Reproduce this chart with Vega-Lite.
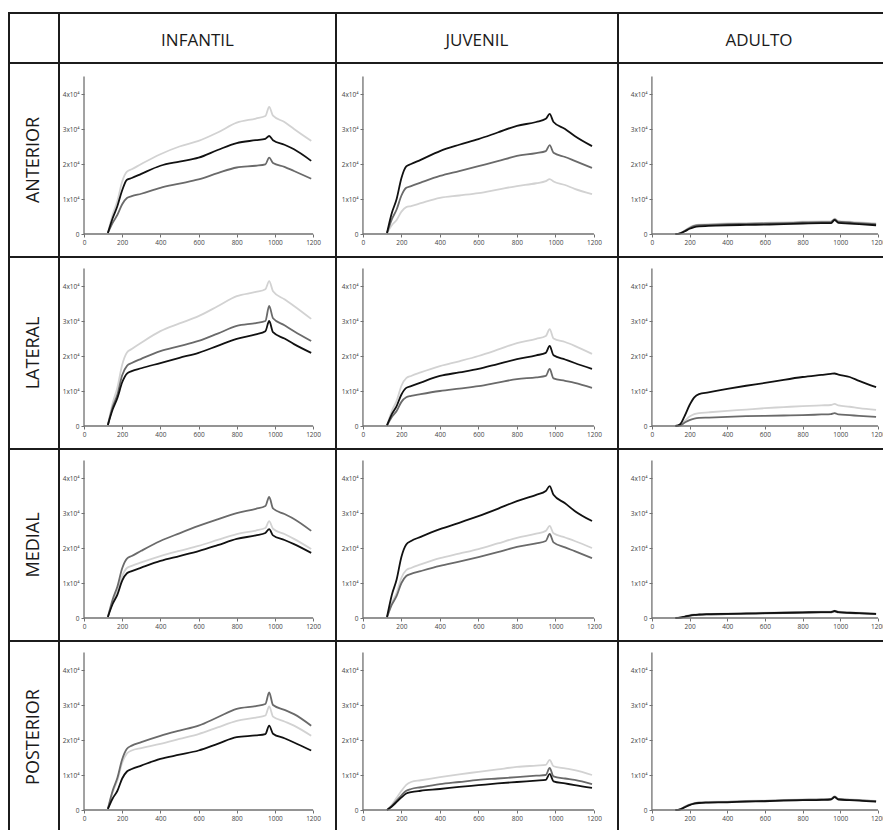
{
"$schema":"https://vega.github.io/schema/vega-lite/v6.json",
"padding":{"left":8,"top":12,"right":0,"bottom":0},
"columns":4,
"spacing":0,
"bounds":"flush",
"datasets":{
"AI":[{"x":125,"a":0.03,"b":0.03,"c":0.03},{"x":150,"a":0.55,"b":0.32,"c":0.45},{"x":175,"a":0.95,"b":0.55,"c":0.8},{"x":200,"a":1.5,"b":0.85,"c":1.25},{"x":225,"a":1.78,"b":1.03,"c":1.55},{"x":250,"a":1.85,"b":1.08,"c":1.6},{"x":300,"a":2.0,"b":1.15,"c":1.72},{"x":400,"a":2.28,"b":1.32,"c":1.95},{"x":500,"a":2.5,"b":1.44,"c":2.07},{"x":600,"a":2.66,"b":1.56,"c":2.18},{"x":700,"a":2.9,"b":1.74,"c":2.4},{"x":800,"a":3.18,"b":1.9,"c":2.6},{"x":900,"a":3.3,"b":1.95,"c":2.68},{"x":950,"a":3.37,"b":1.99,"c":2.72},{"x":970,"a":3.63,"b":2.18,"c":2.8},{"x":990,"a":3.38,"b":2.03,"c":2.68},{"x":1050,"a":3.2,"b":1.92,"c":2.55},{"x":1100,"a":3.0,"b":1.8,"c":2.42},{"x":1190,"a":2.66,"b":1.58,"c":2.09}],
"AJ":[{"x":125,"a":0.02,"b":0.03,"c":0.03},{"x":150,"a":0.25,"b":0.42,"c":0.6},{"x":175,"a":0.4,"b":0.7,"c":1.0},{"x":200,"a":0.64,"b":1.1,"c":1.6},{"x":225,"a":0.77,"b":1.32,"c":1.93},{"x":250,"a":0.8,"b":1.37,"c":2.0},{"x":300,"a":0.88,"b":1.47,"c":2.12},{"x":400,"a":1.03,"b":1.66,"c":2.37},{"x":500,"a":1.1,"b":1.8,"c":2.55},{"x":600,"a":1.17,"b":1.94,"c":2.71},{"x":700,"a":1.27,"b":2.08,"c":2.9},{"x":800,"a":1.37,"b":2.23,"c":3.09},{"x":900,"a":1.45,"b":2.31,"c":3.2},{"x":950,"a":1.51,"b":2.37,"c":3.29},{"x":970,"a":1.57,"b":2.54,"c":3.43},{"x":990,"a":1.5,"b":2.32,"c":3.2},{"x":1050,"a":1.4,"b":2.2,"c":3.0},{"x":1100,"a":1.29,"b":2.09,"c":2.8},{"x":1190,"a":1.14,"b":1.89,"c":2.51}],
"AA":[{"x":125,"a":0,"b":0,"c":0},{"x":150,"a":0.02,"b":0.02,"c":0.02},{"x":175,"a":0.1,"b":0.09,"c":0.08},{"x":200,"a":0.19,"b":0.17,"c":0.15},{"x":225,"a":0.25,"b":0.23,"c":0.2},{"x":250,"a":0.27,"b":0.25,"c":0.22},{"x":300,"a":0.28,"b":0.26,"c":0.23},{"x":400,"a":0.3,"b":0.28,"c":0.25},{"x":500,"a":0.31,"b":0.29,"c":0.26},{"x":600,"a":0.32,"b":0.3,"c":0.27},{"x":700,"a":0.33,"b":0.31,"c":0.28},{"x":800,"a":0.35,"b":0.33,"c":0.3},{"x":900,"a":0.36,"b":0.34,"c":0.31},{"x":950,"a":0.36,"b":0.34,"c":0.31},{"x":970,"a":0.44,"b":0.42,"c":0.4},{"x":990,"a":0.37,"b":0.35,"c":0.32},{"x":1050,"a":0.35,"b":0.33,"c":0.3},{"x":1100,"a":0.33,"b":0.31,"c":0.28},{"x":1190,"a":0.3,"b":0.28,"c":0.25}],
"LI":[{"x":125,"a":0.03,"b":0.03,"c":0.03},{"x":150,"a":0.65,"b":0.54,"c":0.47},{"x":175,"a":1.1,"b":0.9,"c":0.8},{"x":200,"a":1.75,"b":1.45,"c":1.25},{"x":225,"a":2.1,"b":1.72,"c":1.5},{"x":250,"a":2.2,"b":1.8,"c":1.57},{"x":300,"a":2.38,"b":1.92,"c":1.65},{"x":400,"a":2.71,"b":2.14,"c":1.8},{"x":500,"a":2.93,"b":2.28,"c":1.95},{"x":600,"a":3.14,"b":2.43,"c":2.09},{"x":700,"a":3.42,"b":2.64,"c":2.29},{"x":800,"a":3.71,"b":2.86,"c":2.49},{"x":900,"a":3.83,"b":2.94,"c":2.62},{"x":950,"a":3.91,"b":3.0,"c":2.71},{"x":970,"a":4.14,"b":3.43,"c":3.0},{"x":990,"a":3.85,"b":3.08,"c":2.68},{"x":1050,"a":3.62,"b":2.88,"c":2.5},{"x":1100,"a":3.43,"b":2.71,"c":2.34},{"x":1190,"a":3.06,"b":2.43,"c":2.09}],
"LJ":[{"x":125,"a":0.02,"b":0.02,"c":0.02},{"x":150,"a":0.43,"b":0.26,"c":0.34},{"x":175,"a":0.72,"b":0.43,"c":0.57},{"x":200,"a":1.15,"b":0.69,"c":0.9},{"x":225,"a":1.37,"b":0.82,"c":1.09},{"x":250,"a":1.43,"b":0.86,"c":1.14},{"x":300,"a":1.53,"b":0.91,"c":1.24},{"x":400,"a":1.71,"b":1.0,"c":1.43},{"x":500,"a":1.85,"b":1.07,"c":1.53},{"x":600,"a":2.0,"b":1.14,"c":1.63},{"x":700,"a":2.18,"b":1.24,"c":1.77},{"x":800,"a":2.37,"b":1.34,"c":1.91},{"x":900,"a":2.49,"b":1.39,"c":2.02},{"x":950,"a":2.57,"b":1.43,"c":2.09},{"x":970,"a":2.77,"b":1.63,"c":2.29},{"x":990,"a":2.5,"b":1.36,"c":2.02},{"x":1050,"a":2.4,"b":1.29,"c":1.9},{"x":1100,"a":2.29,"b":1.23,"c":1.8},{"x":1190,"a":2.06,"b":1.09,"c":1.63}],
"LA":[{"x":125,"a":0,"b":0,"c":0},{"x":150,"a":0.03,"b":0.02,"c":0.05},{"x":175,"a":0.15,"b":0.1,"c":0.3},{"x":200,"a":0.27,"b":0.17,"c":0.6},{"x":225,"a":0.34,"b":0.21,"c":0.82},{"x":250,"a":0.37,"b":0.23,"c":0.91},{"x":300,"a":0.39,"b":0.24,"c":0.96},{"x":400,"a":0.43,"b":0.26,"c":1.06},{"x":500,"a":0.47,"b":0.28,"c":1.15},{"x":600,"a":0.51,"b":0.29,"c":1.23},{"x":700,"a":0.54,"b":0.3,"c":1.32},{"x":800,"a":0.57,"b":0.31,"c":1.4},{"x":900,"a":0.59,"b":0.33,"c":1.46},{"x":950,"a":0.6,"b":0.34,"c":1.49},{"x":970,"a":0.63,"b":0.37,"c":1.5},{"x":990,"a":0.59,"b":0.33,"c":1.47},{"x":1050,"a":0.55,"b":0.31,"c":1.4},{"x":1100,"a":0.51,"b":0.29,"c":1.29},{"x":1190,"a":0.46,"b":0.26,"c":1.11}],
"MI":[{"x":125,"a":0.03,"b":0.03,"c":0.03},{"x":150,"a":0.45,"b":0.53,"c":0.4},{"x":175,"a":0.75,"b":0.9,"c":0.67},{"x":200,"a":1.2,"b":1.42,"c":1.07},{"x":225,"a":1.43,"b":1.7,"c":1.28},{"x":250,"a":1.49,"b":1.77,"c":1.34},{"x":300,"a":1.59,"b":1.92,"c":1.44},{"x":400,"a":1.77,"b":2.2,"c":1.63},{"x":500,"a":1.92,"b":2.42,"c":1.77},{"x":600,"a":2.06,"b":2.63,"c":1.91},{"x":700,"a":2.23,"b":2.82,"c":2.08},{"x":800,"a":2.4,"b":3.0,"c":2.26},{"x":900,"a":2.5,"b":3.12,"c":2.36},{"x":950,"a":2.57,"b":3.2,"c":2.43},{"x":970,"a":2.77,"b":3.46,"c":2.54},{"x":990,"a":2.55,"b":3.13,"c":2.36},{"x":1050,"a":2.4,"b":2.97,"c":2.23},{"x":1100,"a":2.26,"b":2.83,"c":2.11},{"x":1190,"a":1.97,"b":2.49,"c":1.86}],
"MJ":[{"x":125,"a":0.02,"b":0.02,"c":0.03},{"x":150,"a":0.43,"b":0.38,"c":0.66},{"x":175,"a":0.72,"b":0.63,"c":1.1},{"x":200,"a":1.15,"b":1.0,"c":1.75},{"x":225,"a":1.37,"b":1.2,"c":2.1},{"x":250,"a":1.43,"b":1.26,"c":2.2},{"x":300,"a":1.53,"b":1.34,"c":2.32},{"x":400,"a":1.71,"b":1.49,"c":2.54},{"x":500,"a":1.84,"b":1.61,"c":2.72},{"x":600,"a":1.97,"b":1.74,"c":2.91},{"x":700,"a":2.13,"b":1.88,"c":3.12},{"x":800,"a":2.29,"b":2.03,"c":3.34},{"x":900,"a":2.41,"b":2.13,"c":3.52},{"x":950,"a":2.49,"b":2.2,"c":3.63},{"x":970,"a":2.63,"b":2.4,"c":3.77},{"x":990,"a":2.42,"b":2.16,"c":3.52},{"x":1050,"a":2.3,"b":2.02,"c":3.28},{"x":1100,"a":2.2,"b":1.91,"c":3.06},{"x":1190,"a":2.0,"b":1.71,"c":2.77}],
"MA":[{"x":125,"a":0,"b":0,"c":0},{"x":150,"a":0.02,"b":0.01,"c":0.01},{"x":175,"a":0.05,"b":0.03,"c":0.04},{"x":200,"a":0.08,"b":0.06,"c":0.07},{"x":225,"a":0.1,"b":0.08,"c":0.09},{"x":250,"a":0.11,"b":0.09,"c":0.1},{"x":300,"a":0.12,"b":0.1,"c":0.11},{"x":400,"a":0.13,"b":0.11,"c":0.12},{"x":500,"a":0.14,"b":0.12,"c":0.13},{"x":600,"a":0.15,"b":0.13,"c":0.14},{"x":700,"a":0.16,"b":0.14,"c":0.15},{"x":800,"a":0.17,"b":0.15,"c":0.16},{"x":900,"a":0.18,"b":0.16,"c":0.17},{"x":950,"a":0.18,"b":0.16,"c":0.17},{"x":970,"a":0.21,"b":0.19,"c":0.2},{"x":990,"a":0.18,"b":0.16,"c":0.17},{"x":1050,"a":0.16,"b":0.14,"c":0.15},{"x":1100,"a":0.15,"b":0.13,"c":0.14},{"x":1190,"a":0.13,"b":0.11,"c":0.12}],
"PI":[{"x":125,"a":0.03,"b":0.03,"c":0.03},{"x":150,"a":0.5,"b":0.55,"c":0.33},{"x":175,"a":0.85,"b":0.92,"c":0.55},{"x":200,"a":1.35,"b":1.45,"c":0.9},{"x":225,"a":1.62,"b":1.75,"c":1.1},{"x":250,"a":1.7,"b":1.84,"c":1.17},{"x":300,"a":1.77,"b":1.94,"c":1.27},{"x":400,"a":1.89,"b":2.12,"c":1.46},{"x":500,"a":2.03,"b":2.27,"c":1.58},{"x":600,"a":2.17,"b":2.41,"c":1.7},{"x":700,"a":2.36,"b":2.65,"c":1.89},{"x":800,"a":2.55,"b":2.89,"c":2.08},{"x":900,"a":2.64,"b":2.97,"c":2.13},{"x":950,"a":2.7,"b":3.03,"c":2.17},{"x":970,"a":2.96,"b":3.36,"c":2.41},{"x":990,"a":2.67,"b":3.0,"c":2.18},{"x":1050,"a":2.53,"b":2.86,"c":2.05},{"x":1100,"a":2.41,"b":2.74,"c":1.93},{"x":1190,"a":2.12,"b":2.41,"c":1.7}],
"PJ":[{"x":125,"a":0,"b":0,"c":0},{"x":150,"a":0.15,"b":0.12,"c":0.1},{"x":175,"a":0.35,"b":0.27,"c":0.23},{"x":200,"a":0.55,"b":0.42,"c":0.36},{"x":225,"a":0.72,"b":0.55,"c":0.47},{"x":250,"a":0.8,"b":0.6,"c":0.51},{"x":300,"a":0.85,"b":0.65,"c":0.55},{"x":400,"a":0.94,"b":0.74,"c":0.6},{"x":500,"a":1.02,"b":0.8,"c":0.66},{"x":600,"a":1.09,"b":0.86,"c":0.71},{"x":700,"a":1.16,"b":0.9,"c":0.76},{"x":800,"a":1.23,"b":0.94,"c":0.8},{"x":900,"a":1.27,"b":0.98,"c":0.84},{"x":950,"a":1.29,"b":1.0,"c":0.86},{"x":970,"a":1.43,"b":1.2,"c":1.03},{"x":990,"a":1.25,"b":0.96,"c":0.82},{"x":1050,"a":1.19,"b":0.9,"c":0.76},{"x":1100,"a":1.14,"b":0.86,"c":0.71},{"x":1190,"a":1.0,"b":0.74,"c":0.63}],
"PA":[{"x":125,"a":0,"b":0,"c":0},{"x":150,"a":0.02,"b":0.02,"c":0.02},{"x":175,"a":0.1,"b":0.09,"c":0.08},{"x":200,"a":0.16,"b":0.15,"c":0.14},{"x":225,"a":0.2,"b":0.19,"c":0.18},{"x":250,"a":0.22,"b":0.21,"c":0.2},{"x":300,"a":0.23,"b":0.22,"c":0.21},{"x":400,"a":0.24,"b":0.23,"c":0.22},{"x":500,"a":0.26,"b":0.25,"c":0.24},{"x":600,"a":0.27,"b":0.26,"c":0.25},{"x":700,"a":0.29,"b":0.28,"c":0.27},{"x":800,"a":0.3,"b":0.29,"c":0.28},{"x":900,"a":0.31,"b":0.3,"c":0.29},{"x":950,"a":0.32,"b":0.31,"c":0.3},{"x":970,"a":0.39,"b":0.38,"c":0.37},{"x":990,"a":0.32,"b":0.31,"c":0.3},{"x":1050,"a":0.3,"b":0.29,"c":0.28},{"x":1100,"a":0.29,"b":0.28,"c":0.27},{"x":1190,"a":0.26,"b":0.25,"c":0.24}]
},
"config":{
"view":{"stroke":"#1c1c1c","strokeWidth":2},
"axis":{"grid":false,"domain":false,"tickColor":"#707070","tickSize":3,"tickWidth":1,"labelFontSize":6.5,"labelColor":"#444444","labelFont":"Open Sans","labelPadding":2,"labelFlush":false},
"rule":{"stroke":"#707070","strokeWidth":1.3},
"line":{"strokeWidth":1.8,"interpolate":"monotone"},
"text":{"font":"Open Sans","color":"#1a1a1a"},
"concat":{"spacing":0}
},
"concat":[
{"width":50,"height":50,"data":{"values":[{"t":""}]},"mark":{"type":"text"},"encoding":{"text":{"field":"t"},"x":{"datum":0.5,"type":"quantitative","scale":{"domain":[0,1]},"axis":null},"y":{"datum":0.5,"type":"quantitative","scale":{"domain":[0,1]},"axis":null}}},
{"width":277,"height":50,"data":{"values":[{"t":"INFANTIL"}]},"mark":{"type":"text","fontSize":17,"dy":3},"encoding":{"text":{"field":"t"},"x":{"datum":0.5,"type":"quantitative","scale":{"domain":[0,1]},"axis":null},"y":{"datum":0.5,"type":"quantitative","scale":{"domain":[0,1]},"axis":null}}},
{"width":282,"height":50,"data":{"values":[{"t":"JUVENIL"}]},"mark":{"type":"text","fontSize":17,"dy":3},"encoding":{"text":{"field":"t"},"x":{"datum":0.5,"type":"quantitative","scale":{"domain":[0,1]},"axis":null},"y":{"datum":0.5,"type":"quantitative","scale":{"domain":[0,1]},"axis":null}}},
{"width":282,"height":50,"data":{"values":[{"t":"ADULTO"}]},"mark":{"type":"text","fontSize":17,"dy":3},"encoding":{"text":{"field":"t"},"x":{"datum":0.5,"type":"quantitative","scale":{"domain":[0,1]},"axis":null},"y":{"datum":0.5,"type":"quantitative","scale":{"domain":[0,1]},"axis":null}}},
{"width":50,"height":194,"data":{"values":[{"t":"ANTERIOR"}]},"mark":{"type":"text","fontSize":18,"angle":270},"encoding":{"text":{"field":"t"},"x":{"datum":0.5,"type":"quantitative","scale":{"domain":[0,1]},"axis":null},"y":{"datum":0.5,"type":"quantitative","scale":{"domain":[0,1]},"axis":null}}},
{"width":277,"height":194,"layer":[
{"data":{"name":"AI"},"transform":[{"fold":["a","b","c"],"as":["s","y"]}],"mark":"line","encoding":{"x":{"field":"x","type":"quantitative","scale":{"domain":[-131,1320],"nice":false,"zero":false},"axis":{"title":null,"format":"d","values":[0,200,400,600,800,1000,1200],"offset":-23}},"y":{"field":"y","type":"quantitative","scale":{"domain":[-0.657,4.886],"nice":false,"zero":false},"axis":{"title":null,"values":[0,1,2,3,4],"offset":-25,"labelExpr":"datum.value == 0 ? '0' : datum.value + 'x10⁴'"}},"color":{"field":"s","type":"nominal","scale":{"domain":["a","b","c"],"range":["#d2d2d2","#6a6a6a","#111111"]},"legend":null}}},
{"data":{"values":[{}]},"mark":"rule","encoding":{"x":{"datum":0},"x2":{"datum":1200},"y":{"datum":0}}},
{"data":{"values":[{}]},"mark":"rule","encoding":{"x":{"datum":0},"y":{"datum":0},"y2":{"datum":4.5}}}]},
{"width":282,"height":194,"layer":[
{"data":{"name":"AJ"},"transform":[{"fold":["a","b","c"],"as":["s","y"]}],"mark":"line","encoding":{"x":{"field":"x","type":"quantitative","scale":{"domain":[-140,1325],"nice":false,"zero":false},"axis":{"title":null,"format":"d","values":[0,200,400,600,800,1000,1200],"offset":-23}},"y":{"field":"y","type":"quantitative","scale":{"domain":[-0.657,4.886],"nice":false,"zero":false},"axis":{"title":null,"values":[0,1,2,3,4],"offset":-27,"labelExpr":"datum.value == 0 ? '0' : datum.value + 'x10⁴'"}},"color":{"field":"s","type":"nominal","scale":{"domain":["a","b","c"],"range":["#d2d2d2","#6a6a6a","#111111"]},"legend":null}}},
{"data":{"values":[{}]},"mark":"rule","encoding":{"x":{"datum":0},"x2":{"datum":1200},"y":{"datum":0}}},
{"data":{"values":[{}]},"mark":"rule","encoding":{"x":{"datum":0},"y":{"datum":0},"y2":{"datum":4.5}}}]},
{"width":282,"height":194,"layer":[
{"data":{"name":"AA"},"transform":[{"fold":["a","b","c"],"as":["s","y"]}],"mark":"line","encoding":{"x":{"field":"x","type":"quantitative","scale":{"domain":[-180,1317],"nice":false,"zero":false},"axis":{"title":null,"format":"d","values":[0,200,400,600,800,1000,1200],"offset":-23}},"y":{"field":"y","type":"quantitative","scale":{"domain":[-0.657,4.886],"nice":false,"zero":false},"axis":{"title":null,"values":[0,1,2,3,4],"offset":-34,"labelExpr":"datum.value == 0 ? '0' : datum.value + 'x10⁴'"}},"color":{"field":"s","type":"nominal","scale":{"domain":["a","b","c"],"range":["#d2d2d2","#6a6a6a","#111111"]},"legend":null}}},
{"data":{"values":[{}]},"mark":"rule","encoding":{"x":{"datum":0},"x2":{"datum":1200},"y":{"datum":0}}},
{"data":{"values":[{}]},"mark":"rule","encoding":{"x":{"datum":0},"y":{"datum":0},"y2":{"datum":4.5}}}]},
{"width":50,"height":192,"data":{"values":[{"t":"LATERAL"}]},"mark":{"type":"text","fontSize":18,"angle":270},"encoding":{"text":{"field":"t"},"x":{"datum":0.5,"type":"quantitative","scale":{"domain":[0,1]},"axis":null},"y":{"datum":0.5,"type":"quantitative","scale":{"domain":[0,1]},"axis":null}}},
{"width":277,"height":192,"layer":[
{"data":{"name":"LI"},"transform":[{"fold":["a","b","c"],"as":["s","y"]}],"mark":"line","encoding":{"x":{"field":"x","type":"quantitative","scale":{"domain":[-131,1320],"nice":false,"zero":false},"axis":{"title":null,"format":"d","values":[0,200,400,600,800,1000,1200],"offset":-23}},"y":{"field":"y","type":"quantitative","scale":{"domain":[-0.657,4.829],"nice":false,"zero":false},"axis":{"title":null,"values":[0,1,2,3,4],"offset":-25,"labelExpr":"datum.value == 0 ? '0' : datum.value + 'x10⁴'"}},"color":{"field":"s","type":"nominal","scale":{"domain":["a","b","c"],"range":["#d2d2d2","#6a6a6a","#111111"]},"legend":null}}},
{"data":{"values":[{}]},"mark":"rule","encoding":{"x":{"datum":0},"x2":{"datum":1200},"y":{"datum":0}}},
{"data":{"values":[{}]},"mark":"rule","encoding":{"x":{"datum":0},"y":{"datum":0},"y2":{"datum":4.5}}}]},
{"width":282,"height":192,"layer":[
{"data":{"name":"LJ"},"transform":[{"fold":["a","b","c"],"as":["s","y"]}],"mark":"line","encoding":{"x":{"field":"x","type":"quantitative","scale":{"domain":[-140,1325],"nice":false,"zero":false},"axis":{"title":null,"format":"d","values":[0,200,400,600,800,1000,1200],"offset":-23}},"y":{"field":"y","type":"quantitative","scale":{"domain":[-0.657,4.829],"nice":false,"zero":false},"axis":{"title":null,"values":[0,1,2,3,4],"offset":-27,"labelExpr":"datum.value == 0 ? '0' : datum.value + 'x10⁴'"}},"color":{"field":"s","type":"nominal","scale":{"domain":["a","b","c"],"range":["#d2d2d2","#6a6a6a","#111111"]},"legend":null}}},
{"data":{"values":[{}]},"mark":"rule","encoding":{"x":{"datum":0},"x2":{"datum":1200},"y":{"datum":0}}},
{"data":{"values":[{}]},"mark":"rule","encoding":{"x":{"datum":0},"y":{"datum":0},"y2":{"datum":4.5}}}]},
{"width":282,"height":192,"layer":[
{"data":{"name":"LA"},"transform":[{"fold":["a","b","c"],"as":["s","y"]}],"mark":"line","encoding":{"x":{"field":"x","type":"quantitative","scale":{"domain":[-180,1317],"nice":false,"zero":false},"axis":{"title":null,"format":"d","values":[0,200,400,600,800,1000,1200],"offset":-23}},"y":{"field":"y","type":"quantitative","scale":{"domain":[-0.657,4.829],"nice":false,"zero":false},"axis":{"title":null,"values":[0,1,2,3,4],"offset":-34,"labelExpr":"datum.value == 0 ? '0' : datum.value + 'x10⁴'"}},"color":{"field":"s","type":"nominal","scale":{"domain":["a","b","c"],"range":["#d2d2d2","#6a6a6a","#111111"]},"legend":null}}},
{"data":{"values":[{}]},"mark":"rule","encoding":{"x":{"datum":0},"x2":{"datum":1200},"y":{"datum":0}}},
{"data":{"values":[{}]},"mark":"rule","encoding":{"x":{"datum":0},"y":{"datum":0},"y2":{"datum":4.5}}}]},
{"width":50,"height":192,"data":{"values":[{"t":"MEDIAL"}]},"mark":{"type":"text","fontSize":18,"angle":270},"encoding":{"text":{"field":"t"},"x":{"datum":0.5,"type":"quantitative","scale":{"domain":[0,1]},"axis":null},"y":{"datum":0.5,"type":"quantitative","scale":{"domain":[0,1]},"axis":null}}},
{"width":277,"height":192,"layer":[
{"data":{"name":"MI"},"transform":[{"fold":["a","b","c"],"as":["s","y"]}],"mark":"line","encoding":{"x":{"field":"x","type":"quantitative","scale":{"domain":[-131,1320],"nice":false,"zero":false},"axis":{"title":null,"format":"d","values":[0,200,400,600,800,1000,1200],"offset":-23}},"y":{"field":"y","type":"quantitative","scale":{"domain":[-0.657,4.829],"nice":false,"zero":false},"axis":{"title":null,"values":[0,1,2,3,4],"offset":-25,"labelExpr":"datum.value == 0 ? '0' : datum.value + 'x10⁴'"}},"color":{"field":"s","type":"nominal","scale":{"domain":["a","b","c"],"range":["#d2d2d2","#6a6a6a","#111111"]},"legend":null}}},
{"data":{"values":[{}]},"mark":"rule","encoding":{"x":{"datum":0},"x2":{"datum":1200},"y":{"datum":0}}},
{"data":{"values":[{}]},"mark":"rule","encoding":{"x":{"datum":0},"y":{"datum":0},"y2":{"datum":4.5}}}]},
{"width":282,"height":192,"layer":[
{"data":{"name":"MJ"},"transform":[{"fold":["a","b","c"],"as":["s","y"]}],"mark":"line","encoding":{"x":{"field":"x","type":"quantitative","scale":{"domain":[-140,1325],"nice":false,"zero":false},"axis":{"title":null,"format":"d","values":[0,200,400,600,800,1000,1200],"offset":-23}},"y":{"field":"y","type":"quantitative","scale":{"domain":[-0.657,4.829],"nice":false,"zero":false},"axis":{"title":null,"values":[0,1,2,3,4],"offset":-27,"labelExpr":"datum.value == 0 ? '0' : datum.value + 'x10⁴'"}},"color":{"field":"s","type":"nominal","scale":{"domain":["a","b","c"],"range":["#d2d2d2","#6a6a6a","#111111"]},"legend":null}}},
{"data":{"values":[{}]},"mark":"rule","encoding":{"x":{"datum":0},"x2":{"datum":1200},"y":{"datum":0}}},
{"data":{"values":[{}]},"mark":"rule","encoding":{"x":{"datum":0},"y":{"datum":0},"y2":{"datum":4.5}}}]},
{"width":282,"height":192,"layer":[
{"data":{"name":"MA"},"transform":[{"fold":["a","b","c"],"as":["s","y"]}],"mark":"line","encoding":{"x":{"field":"x","type":"quantitative","scale":{"domain":[-180,1317],"nice":false,"zero":false},"axis":{"title":null,"format":"d","values":[0,200,400,600,800,1000,1200],"offset":-23}},"y":{"field":"y","type":"quantitative","scale":{"domain":[-0.657,4.829],"nice":false,"zero":false},"axis":{"title":null,"values":[0,1,2,3,4],"offset":-34,"labelExpr":"datum.value == 0 ? '0' : datum.value + 'x10⁴'"}},"color":{"field":"s","type":"nominal","scale":{"domain":["a","b","c"],"range":["#d2d2d2","#6a6a6a","#111111"]},"legend":null}}},
{"data":{"values":[{}]},"mark":"rule","encoding":{"x":{"datum":0},"x2":{"datum":1200},"y":{"datum":0}}},
{"data":{"values":[{}]},"mark":"rule","encoding":{"x":{"datum":0},"y":{"datum":0},"y2":{"datum":4.5}}}]},
{"width":50,"height":192,"data":{"values":[{"t":"POSTERIOR"}]},"mark":{"type":"text","fontSize":18,"angle":270},"encoding":{"text":{"field":"t"},"x":{"datum":0.5,"type":"quantitative","scale":{"domain":[0,1]},"axis":null},"y":{"datum":0.5,"type":"quantitative","scale":{"domain":[0,1]},"axis":null}}},
{"width":277,"height":192,"layer":[
{"data":{"name":"PI"},"transform":[{"fold":["a","b","c"],"as":["s","y"]}],"mark":"line","encoding":{"x":{"field":"x","type":"quantitative","scale":{"domain":[-131,1320],"nice":false,"zero":false},"axis":{"title":null,"format":"d","values":[0,200,400,600,800,1000,1200],"offset":-23}},"y":{"field":"y","type":"quantitative","scale":{"domain":[-0.657,4.829],"nice":false,"zero":false},"axis":{"title":null,"values":[0,1,2,3,4],"offset":-25,"labelExpr":"datum.value == 0 ? '0' : datum.value + 'x10⁴'"}},"color":{"field":"s","type":"nominal","scale":{"domain":["a","b","c"],"range":["#d2d2d2","#6a6a6a","#111111"]},"legend":null}}},
{"data":{"values":[{}]},"mark":"rule","encoding":{"x":{"datum":0},"x2":{"datum":1200},"y":{"datum":0}}},
{"data":{"values":[{}]},"mark":"rule","encoding":{"x":{"datum":0},"y":{"datum":0},"y2":{"datum":4.5}}}]},
{"width":282,"height":192,"layer":[
{"data":{"name":"PJ"},"transform":[{"fold":["a","b","c"],"as":["s","y"]}],"mark":"line","encoding":{"x":{"field":"x","type":"quantitative","scale":{"domain":[-140,1325],"nice":false,"zero":false},"axis":{"title":null,"format":"d","values":[0,200,400,600,800,1000,1200],"offset":-23}},"y":{"field":"y","type":"quantitative","scale":{"domain":[-0.657,4.829],"nice":false,"zero":false},"axis":{"title":null,"values":[0,1,2,3,4],"offset":-27,"labelExpr":"datum.value == 0 ? '0' : datum.value + 'x10⁴'"}},"color":{"field":"s","type":"nominal","scale":{"domain":["a","b","c"],"range":["#d2d2d2","#6a6a6a","#111111"]},"legend":null}}},
{"data":{"values":[{}]},"mark":"rule","encoding":{"x":{"datum":0},"x2":{"datum":1200},"y":{"datum":0}}},
{"data":{"values":[{}]},"mark":"rule","encoding":{"x":{"datum":0},"y":{"datum":0},"y2":{"datum":4.5}}}]},
{"width":282,"height":192,"layer":[
{"data":{"name":"PA"},"transform":[{"fold":["a","b","c"],"as":["s","y"]}],"mark":"line","encoding":{"x":{"field":"x","type":"quantitative","scale":{"domain":[-180,1317],"nice":false,"zero":false},"axis":{"title":null,"format":"d","values":[0,200,400,600,800,1000,1200],"offset":-23}},"y":{"field":"y","type":"quantitative","scale":{"domain":[-0.657,4.829],"nice":false,"zero":false},"axis":{"title":null,"values":[0,1,2,3,4],"offset":-34,"labelExpr":"datum.value == 0 ? '0' : datum.value + 'x10⁴'"}},"color":{"field":"s","type":"nominal","scale":{"domain":["a","b","c"],"range":["#d2d2d2","#6a6a6a","#111111"]},"legend":null}}},
{"data":{"values":[{}]},"mark":"rule","encoding":{"x":{"datum":0},"x2":{"datum":1200},"y":{"datum":0}}},
{"data":{"values":[{}]},"mark":"rule","encoding":{"x":{"datum":0},"y":{"datum":0},"y2":{"datum":4.5}}}]}
]
}
